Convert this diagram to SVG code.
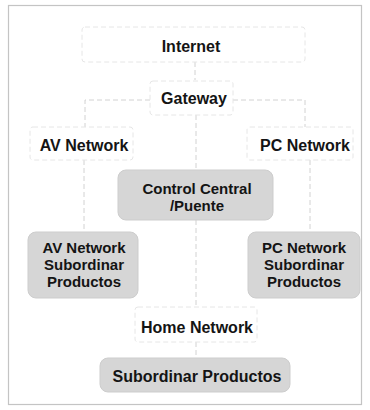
<svg xmlns="http://www.w3.org/2000/svg" width="370" height="410" viewBox="0 0 370 410">
<style>
.t{font-family:"Liberation Sans",Arial,sans-serif;font-size:16px;font-weight:bold;fill:#141414;text-anchor:middle}
.m{font-size:15px}
.g{fill:#d6d6d6;stroke:#cdcdcd;stroke-width:1}
.f{fill:none;stroke:#e6e6e6;stroke-width:1;stroke-dasharray:5 3}
.c{fill:none;stroke:#d2d2d2;stroke-width:1;stroke-dasharray:5 3}
</style>
<rect x="0" y="0" width="370" height="410" fill="#ffffff"/>
<rect x="8.5" y="5.5" width="353" height="399" fill="none" stroke="#c4c4c4" stroke-width="1.2"/>
<g id="connectors">
<path class="c" d="M195 62V80"/>
<path class="c" d="M150 100H85V127"/>
<path class="c" d="M233 100H305V127"/>
<path class="c" d="M196 115V170"/>
<path class="c" d="M84 160V232"/>
<path class="c" d="M310 160V232"/>
<path class="c" d="M196 220V307"/>
<path class="c" d="M196 342V358"/>
</g>
<g id="internet"><rect class="f" x="82" y="27" width="223" height="35" rx="3"/><text class="t" x="191" y="52">Internet</text></g>
<g id="gateway"><rect class="f" x="150" y="81" width="83" height="34" rx="3"/><text class="t" x="194" y="104">Gateway</text></g>
<g id="av-network"><rect class="f" x="30" y="127" width="103" height="33" rx="3"/><text class="t" x="84" y="151">AV Network</text></g>
<g id="pc-network"><rect class="f" x="247" y="127" width="106" height="33" rx="3"/><text class="t" x="305" y="151">PC Network</text></g>
<g id="control-central"><rect class="g" x="118" y="170" width="155" height="50" rx="8"/><text class="t m" x="197" y="194">Control Central</text><text class="t m" x="197" y="211">/Puente</text></g>
<g id="av-sub"><rect class="g" x="28" y="232" width="110" height="66" rx="8"/><text class="t m" x="84" y="253">AV Network</text><text class="t m" x="84" y="270">Subordinar</text><text class="t m" x="84" y="287">Productos</text></g>
<g id="pc-sub"><rect class="g" x="248" y="232" width="112" height="66" rx="8"/><text class="t m" x="304" y="253">PC Network</text><text class="t m" x="304" y="270">Subordinar</text><text class="t m" x="304" y="287">Productos</text></g>
<g id="home-network"><rect class="f" x="135" y="307" width="122" height="35" rx="3"/><text class="t" x="197" y="333">Home Network</text></g>
<g id="subordinar"><rect class="g" x="100" y="358" width="190" height="34" rx="8"/><text class="t" x="197" y="382">Subordinar Productos</text></g>
</svg>
